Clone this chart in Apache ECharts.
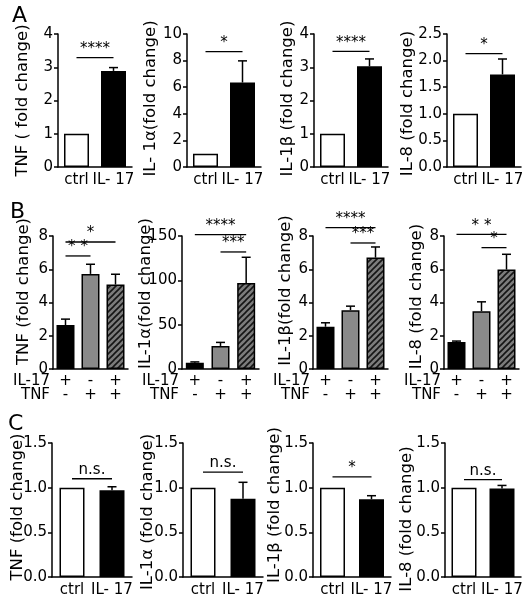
<!DOCTYPE html>
<html><head><meta charset="utf-8">
<script src="https://cdn.jsdelivr.net/npm/echarts@6/dist/echarts.min.js"></script>
<style>html,body{margin:0;padding:0;background:#fff}#c{width:531px;height:602px}</style>
</head><body><div id="c"></div>
<script>
const FONT = 'DejaVu Sans';

// ---- categories / tick labels ----
const pairCats = ['ctrl', 'IL- 17'];
const comboCats = ['+\n-', '-\n+', '+\n+'];   // IL-17 row / TNF row
const comboRowLabel = 'IL-17\nTNF';
const panelLetters = ['A', 'B', 'C'];

const titlesA = ['TNF ( fold change)', 'IL- 1α(fold change)', 'IL-1β (fold change)', 'IL-8 (fold change)'];
const titlesB = ['TNF (fold change)', 'IL-1α(fold change)', 'IL-1β(fold change)', 'IL-8 (fold change)'];
const titlesC = ['TNF (fold change)', 'IL-1α (fold change)', 'IL-1β (fold change)', 'IL-8 (fold change)'];

// ---- row A: ctrl vs IL-17 ----
const rowA_mean = [[1, 2.89], [1, 6.35], [1, 3.03], [1, 1.74]];
const rowA_sem  = [[0, 0.10], [0, 1.63], [0, 0.22], [0, 0.29]];
const rowA_sig  = [[[0, 1, 3.29, '****']], [[0, 1, 8.67, '*']], [[0, 1, 3.48, '****']], [[0, 1, 2.13, '*']]];
const rowA_ymax = [4, 10, 4, 2.5];
const rowA_step = [1, 2, 1, 0.5];
const rowA_dec  = [0, 0, 0, 1];

// ---- row B: IL-17 / TNF / IL-17+TNF ----
const rowB_mean = [[2.64, 5.72, 5.08], [7, 26, 97], [2.54, 3.54, 6.7], [1.62, 3.48, 5.98]];
const rowB_sem  = [[0.36, 0.58, 0.62], [1, 4, 29], [0.24, 0.24, 0.64], [0.06, 0.56, 0.92]];
const rowB_sig  = [
  [[0, 2, 7.64, '*'], [0, 1, 6.8, '* *']],
  [[0, 2, 151.5, '****'], [1, 2, 132, '***']],
  [[0, 2, 8.5, '****'], [1, 2, 7.58, '***']],
  [[0, 2, 8.1, '* *'], [1, 2, 7.3, '*']]
];
const rowB_ymax = [8, 150, 8, 8];
const rowB_step = [2, 50, 2, 2];

// ---- row C: ctrl vs IL-17 ----
const rowC_mean = [[1, 0.97], [1, 0.875], [1, 0.87], [1, 0.99]];
const rowC_sem  = [[0, 0.04], [0, 0.185], [0, 0.04], [0, 0.035]];
const rowC_sig  = [[[0, 1, 1.10, 'n.s.']], [[0, 1, 1.175, 'n.s.']], [[0, 1, 1.12, '*']], [[0, 1, 1.09, 'n.s.']]];
const rowC_ymax = [1.5, 1.5, 1.5, 1.5];
const rowC_step = [0.5, 0.5, 0.5, 0.5];
const rowC_dec  = [1, 1, 1, 1];

// ---- layout ----
const layA = {top: 34, height: 133, left: [58, 187, 314, 447], width: [74, 74, 74, 74], gap: [27, 28, 18, 31], shift: [0, 2, 2, -3], bw: 25, cap: 9};
const layB = {top: 236, height: 133, left: [53, 182, 313, 444], width: [75, 77, 75, 75], gap: [21, 28, 19, 19], shift: [11, 9, 12, 6], bw: 18, cap: 9};
const layC = {top: 443, height: 134, left: [52, 183, 313, 445], width: [80, 80, 78, 76], gap: [26, 27, 30, 30], shift: [3, -2, 5, -9], bw: 25, cap: 9};

function hatch() {
  const c = document.createElement('canvas'); c.width = 6; c.height = 6;
  const g = c.getContext('2d');
  g.fillStyle = '#7c7c7c'; g.fillRect(0, 0, 6, 6);
  g.strokeStyle = '#151515'; g.lineWidth = 1.6; g.beginPath();
  g.moveTo(-1, 7); g.lineTo(7, -1);
  g.moveTo(-1, 1); g.lineTo(1, -1);
  g.moveTo(5, 7); g.lineTo(7, 5);
  g.stroke();
  return c;
}
const pairFills = ['#ffffff', '#000000'];
const comboFills = ['#000000', '#8a8a8a', {image: hatch(), repeat: 'repeat'}];

const grids = [], xAxes = [], yAxes = [], series = [];

function errRender(capW) {
  return function (params, api) {
    const b = api.coord([api.value(0), api.value(1)]);
    const t = api.coord([api.value(0), api.value(2)]);
    return {type: 'group', children: [
      {type: 'line', shape: {x1: b[0], y1: b[1], x2: t[0], y2: t[1]}, style: {stroke: '#000', lineWidth: 1.5}},
      {type: 'line', shape: {x1: t[0] - capW / 2, y1: t[1], x2: t[0] + capW / 2, y2: t[1]}, style: {stroke: '#000', lineWidth: 1.5}}
    ]};
  };
}
function sigRender(sigs) {
  return function (params, api) {
    const s = sigs[params.dataIndex];
    const a = api.coord([s[0], s[2]]), b = api.coord([s[1], s[2]]);
    return {type: 'group', children: [
      {type: 'line', shape: {x1: a[0], y1: a[1], x2: b[0], y2: b[1]}, style: {stroke: '#000', lineWidth: 1.3}},
      {type: 'text', x: (a[0] + b[0]) / 2, y: a[1] - 1,
        style: {text: s[3], fill: '#000', font: '15px "DejaVu Sans"', align: 'center', verticalAlign: 'bottom'}}
    ]};
  };
}

function addPanel(p) {
  const i = grids.length;
  grids.push({left: p.left, top: p.top, width: p.width, height: p.height});
  const xa = {
    type: 'category', gridIndex: i, data: p.cats,
    axisLine: {lineStyle: {color: '#000', width: 1.5}},
    axisTick: {show: false},
    axisLabel: {color: '#000', fontFamily: FONT, fontSize: 15, margin: p.combo ? 5 : 6, lineHeight: 14, interval: 0}
  };
  if (p.combo) {
    xa.name = comboRowLabel; xa.nameLocation = 'start'; xa.nameGap = 3; xa.nameMoveOverlap = false;
    xa.nameTextStyle = {color: '#000', fontFamily: FONT, fontSize: 15, align: 'right', verticalAlign: 'top', lineHeight: 14, padding: [5, 0, 0, 0]};
  }
  xAxes.push(xa);
  const pad = p.shift >= 0 ? [0, 0, 0, 2 * p.shift] : [0, -2 * p.shift, 0, 0];
  yAxes.push({
    type: 'value', gridIndex: i, min: 0, max: p.ymax, interval: p.step,
    name: p.title, nameLocation: 'middle', nameGap: p.nameGap, nameMoveOverlap: false,
    nameTextStyle: {color: '#000', fontFamily: FONT, fontSize: 16.5, padding: pad},
    axisLine: {show: true, lineStyle: {color: '#000', width: 1.5}},
    axisTick: {show: true, length: 4, lineStyle: {color: '#000', width: 1.5}},
    axisLabel: {color: '#000', fontFamily: FONT, fontSize: 15, margin: 5, formatter: v => v.toFixed(p.dec)},
    splitLine: {show: false}
  });
  series.push({
    type: 'bar', xAxisIndex: i, yAxisIndex: i, barWidth: p.bw, silent: true,
    data: p.means.map((v, k) => ({value: v, itemStyle: {color: p.fills[k], borderColor: '#000', borderWidth: 1.5}}))
  });
  series.push({
    type: 'custom', xAxisIndex: i, yAxisIndex: i, z: 3, silent: true, encode: {x: 0, y: 1},
    data: p.means.map((v, k) => [k, v, v + p.sems[k]]).filter((d, k) => p.sems[k] > 0),
    renderItem: errRender(p.cap)
  });
  series.push({
    type: 'custom', xAxisIndex: i, yAxisIndex: i, z: 4, silent: true, encode: {x: 0, y: 1},
    data: p.sigs.map(s => [s[0], s[2]]),
    renderItem: sigRender(p.sigs)
  });
}

function addRow(lay, cats, combo, means, sems, sigs, ymax, step, dec, titles, fills) {
  for (let k = 0; k < 4; k++) {
    addPanel({left: lay.left[k], top: lay.top, width: lay.width[k], height: lay.height, cats: cats, combo: combo,
      means: means[k], sems: sems[k], sigs: sigs[k], ymax: ymax[k], step: step[k], dec: dec[k],
      title: titles[k], nameGap: lay.gap[k], shift: lay.shift[k], bw: lay.bw, cap: lay.cap, fills: fills});
  }
}
addRow(layA, pairCats, false, rowA_mean, rowA_sem, rowA_sig, rowA_ymax, rowA_step, rowA_dec, titlesA, pairFills);
addRow(layB, comboCats, true, rowB_mean, rowB_sem, rowB_sig, rowB_ymax, rowB_step, [0, 0, 0, 0], titlesB, comboFills);
addRow(layC, pairCats, false, rowC_mean, rowC_sem, rowC_sig, rowC_ymax, rowC_step, rowC_dec, titlesC, pairFills);

const letterPos = [[12, 5], [10, 201], [8, 413]];
const chart = echarts.init(document.getElementById('c'), null, {renderer: 'canvas'});
chart.setOption({
  animation: false,
  backgroundColor: '#fff',
  grid: grids, xAxis: xAxes, yAxis: yAxes, series: series,
  graphic: panelLetters.map((t, k) => ({
    type: 'text', left: letterPos[k][0], top: letterPos[k][1],
    style: {text: t, fill: '#000', font: '22px "DejaVu Sans"'}
  }))
});
</script>
</body></html>
